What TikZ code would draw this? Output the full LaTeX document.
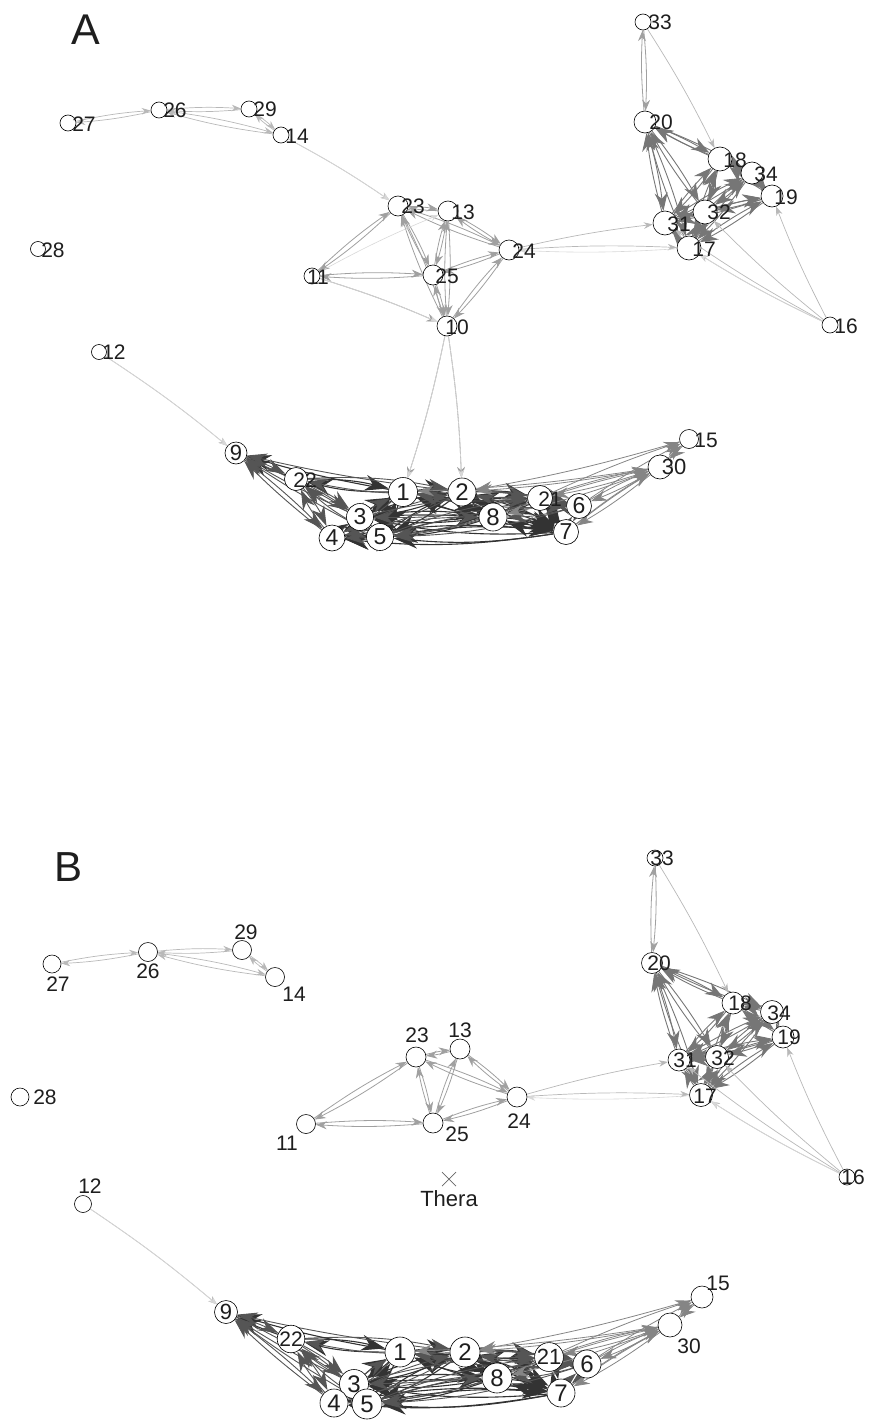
\documentclass[tikz,border=0pt]{standalone}
\usepackage{fontspec}
\setmainfont{Liberation Sans}
\usetikzlibrary{arrows.meta,calc}
\pgfdeclarelayer{bg}
\pgfsetlayers{bg,main}
\definecolor{cvl}{HTML}{D8D8D8}
\definecolor{clt}{HTML}{B8B8B8}
\definecolor{cmd}{HTML}{A0A0A0}
\definecolor{crc}{HTML}{767676}
\definecolor{cbm}{HTML}{858585}
\definecolor{cdm}{HTML}{555555}
\definecolor{cdk}{HTML}{333333}
\definecolor{ctx}{HTML}{1E1E1E}
\tikzset{
  vtx/.style={circle,draw=black,fill=white,line width=0.6pt,inner sep=0pt,text=ctx},
  lab/.style={text=ctx,inner sep=0pt,font=\fontsize{21}{21}\selectfont},
  labbig/.style={text=ctx,inner sep=0pt,font=\fontsize{22}{22}\selectfont},
  vl/.style={draw=cvl,line width=0.6pt,-{Stealth[length=8pt,width=6pt]}},
  lt/.style={draw=clt,line width=0.7pt,-{Stealth[length=9pt,width=6.5pt]}},
  md/.style={draw=cmd,line width=0.8pt,-{Stealth[length=11pt,width=8pt]}},
  rc/.style={draw=crc,line width=0.9pt,-{Stealth[length=18pt,width=13pt]}},
  bm/.style={draw=cbm,line width=0.8pt,-{Stealth[length=16pt,width=11pt]}},
  dm/.style={draw=cdm,line width=0.9pt,-{Stealth[length=20pt,width=13pt]}},
  dk/.style={draw=cdk,line width=1.1pt,-{Stealth[length=24pt,width=16pt]}},
}
\newcommand\biedge[3]{\draw[#1] (#2) to[bend left=4] (#3); \draw[#1] (#3) to[bend left=4] (#2);}
\newcommand\wideedge[3]{\draw[#1] (#2) to[bend left=7] (#3); \draw[#1] (#3) to[bend left=7] (#2);}
\newcommand\oneedge[3]{\draw[#1] (#2) to[bend left=3] (#3);}
\newcommand\clusteredges[1]{%
  \foreach \s/\t in {20/18,20/34,20/31,20/17,20/32,18/31,18/32,18/17,18/34,34/32,34/31,34/17,34/19,19/31,19/32,19/17,31/32,31/17,32/17,18/19}
    {\biedge{rc}{#1\s}{#1\t}}
  \biedge{md}{#133}{#120}
  \oneedge{lt}{#133}{#118}
  \foreach \t in {19,17,31,32} {\oneedge{lt}{#116}{#1\t}}
  \oneedge{vl}{#116}{#117}
  \foreach \s/\t in {1/2,1/3,1/5,1/8,1/7,2/3,2/5,2/8,2/7,2/21,3/5,3/8,3/7,4/5,4/7,5/7,5/8,8/7,8/21,21/7,1/22,3/4}
    {\wideedge{dk}{#1\s}{#1\t}}
  \foreach \s/\t in {1/21,1/4,2/4,2/6,2/22,3/22,3/21,4/8,4/22,5/21,5/22,8/6,21/6,6/7,1/6,5/6}
    {\wideedge{dm}{#1\s}{#1\t}}
  \foreach \s/\t in {22/9,1/9} {\oneedge{dk}{#1\s}{#1\t}}
  \foreach \s/\t in {3/9,4/9,9/4,5/9,2/9,9/22,9/3} {\oneedge{dm}{#1\s}{#1\t}}
  \foreach \s/\t in {30/21,30/6,30/7,30/8} {\biedge{bm}{#1\s}{#1\t}}
  \foreach \s/\t in {30/2,30/1,15/2,21/15,6/15,30/15,15/30,7/30} {\oneedge{bm}{#1\s}{#1\t}}
  \oneedge{lt}{#112}{#19}
  \oneedge{vl}{#112}{#19}
}
\begin{document}
\begin{tikzpicture}[x=1pt,y=-1pt]
\useasboundingbox (0,0) rectangle (868,1421);
% ================= PANEL A =================
\node[text=ctx,inner sep=0pt,font=\fontsize{43}{43}\selectfont] (labA) at (86,30) {A};
\node[vtx,minimum size=16pt] (A27) at (68,123) {};
\node[vtx,minimum size=16pt] (A26) at (159,110) {};
\node[vtx,minimum size=16pt] (A29) at (249,109) {};
\node[vtx,minimum size=16pt] (A14) at (281,135) {};
\node[vtx,minimum size=15pt] (A28) at (38,249) {};
\node[vtx,minimum size=15pt] (A12) at (99,352) {};
\node[vtx,minimum size=20pt] (A23) at (398,206) {};
\node[vtx,minimum size=20pt] (A13) at (448,211) {};
\node[vtx,minimum size=20pt] (A24) at (509,250) {};
\node[vtx,minimum size=16pt] (A11) at (312,276) {};
\node[vtx,minimum size=20pt] (A25) at (433,275) {};
\node[vtx,minimum size=20pt] (A10) at (447,326) {};
\node[vtx,minimum size=16pt] (A33) at (643,22) {};
\node[vtx,minimum size=22pt] (A20) at (645,122) {};
\node[vtx,minimum size=24pt] (A18) at (720,159) {};
\node[vtx,minimum size=22pt] (A34) at (752,173) {};
\node[vtx,minimum size=22pt] (A19) at (772,196) {};
\node[vtx,minimum size=24pt] (A32) at (705,212) {};
\node[vtx,minimum size=24pt] (A31) at (665,223) {};
\node[vtx,minimum size=24pt] (A17) at (689,248) {};
\node[vtx,minimum size=16pt] (A16) at (830,325) {};
\node[vtx,minimum size=22pt,font=\fontsize{22}{22}\selectfont] (A9) at (236,453) {9};
\node[vtx,minimum size=23pt] (A22) at (296,479) {};
\node[vtx,minimum size=29pt,font=\fontsize{24}{24}\selectfont] (A1) at (403,492) {1};
\node[vtx,minimum size=28pt,font=\fontsize{24}{24}\selectfont] (A2) at (462,492) {2};
\node[vtx,minimum size=25pt] (A21) at (540,498) {};
\node[vtx,minimum size=25pt,font=\fontsize{23}{23}\selectfont] (A6) at (579,506) {6};
\node[vtx,minimum size=27pt,font=\fontsize{23}{23}\selectfont] (A3) at (360,517) {3};
\node[vtx,minimum size=28pt,font=\fontsize{24}{24}\selectfont] (A8) at (493,517) {8};
\node[vtx,minimum size=26pt,font=\fontsize{23}{23}\selectfont] (A4) at (332,538) {4};
\node[vtx,minimum size=27pt,font=\fontsize{23}{23}\selectfont] (A5) at (380,537) {5};
\node[vtx,minimum size=25pt,font=\fontsize{23}{23}\selectfont] (A7) at (566,532) {7};
\node[vtx,minimum size=24pt] (A30) at (660,467) {};
\node[vtx,minimum size=19pt] (A15) at (689,439) {};
\node[lab] (lA27) at (84,124) {27};
\node[lab] (lA26) at (175,110) {26};
\node[lab] (lA29) at (265,109) {29};
\node[lab] (lA14) at (297,136) {14};
\node[lab] (lA28) at (53,250) {28};
\node[lab] (lA12) at (114,352) {12};
\node[lab] (lA23) at (413,206) {23};
\node[lab] (lA13) at (463,212) {13};
\node[lab] (lA24) at (524,251) {24};
\node[lab] (lA11) at (318,277) {11};
\node[lab] (lA25) at (447,276) {25};
\node[lab] (lA10) at (457,327) {10};
\node[lab] (lA33) at (660,22) {33};
\node[lab] (lA20) at (661,122) {20};
\node[lab] (lA18) at (735,160) {18};
\node[lab] (lA34) at (766,174) {34};
\node[lab] (lA19) at (786,197) {19};
\node[lab] (lA32) at (719,212) {32};
\node[lab] (lA31) at (679,224) {31};
\node[lab] (lA17) at (704,249) {17};
\node[lab] (lA16) at (846,326) {16};
\node[lab] (lA22) at (305,480) {22};
\node[lab] (lA21) at (550,499) {21};
\node[labbig] (lA30) at (674,467) {30};
\node[lab] (lA15) at (706,440) {15};
% ================= PANEL B =================
\node[text=ctx,inner sep=0pt,font=\fontsize{42}{42}\selectfont] (labB) at (69,867) {B};
\node[vtx,minimum size=18pt] (B27) at (52,964) {};
\node[vtx,minimum size=19pt] (B26) at (148,952) {};
\node[vtx,minimum size=19pt] (B29) at (242,950) {};
\node[vtx,minimum size=19pt] (B14) at (275,977) {};
\node[vtx,minimum size=18pt] (B28) at (20,1097) {};
\node[vtx,minimum size=17pt] (B12) at (83,1204) {};
\node[vtx,minimum size=20pt] (B23) at (416,1057) {};
\node[vtx,minimum size=20pt] (B13) at (460,1049) {};
\node[vtx,minimum size=20pt] (B24) at (517,1097) {};
\node[vtx,minimum size=19pt] (B11) at (306,1124) {};
\node[vtx,minimum size=20pt] (B25) at (433,1123) {};
\node[vtx,minimum size=16pt] (B33) at (655,858) {};
\node[vtx,minimum size=21pt] (B20) at (652,963) {};
\node[vtx,minimum size=22pt] (B18) at (733,1003) {};
\node[vtx,minimum size=23pt] (B34) at (772,1012) {};
\node[vtx,minimum size=22pt] (B19) at (783,1037) {};
\node[vtx,minimum size=22pt] (B31) at (679,1060) {};
\node[vtx,minimum size=23pt] (B32) at (717,1057) {};
\node[vtx,minimum size=23pt] (B17) at (701,1095) {};
\node[vtx,minimum size=16pt] (B16) at (847,1177) {};
\node[vtx,minimum size=23pt,font=\fontsize{22}{22}\selectfont] (B9) at (226,1312) {9};
\node[vtx,minimum size=25pt,font=\fontsize{21}{21}\selectfont] (B22) at (291,1339) {22};
\node[vtx,minimum size=30pt,font=\fontsize{24}{24}\selectfont] (B1) at (400,1352) {1};
\node[vtx,minimum size=30pt,font=\fontsize{24}{24}\selectfont] (B2) at (465,1352) {2};
\node[vtx,minimum size=29pt,font=\fontsize{24}{24}\selectfont] (B3) at (354,1384) {3};
\node[vtx,minimum size=28pt,font=\fontsize{24}{24}\selectfont] (B4) at (334,1403) {4};
\node[vtx,minimum size=30pt,font=\fontsize{24}{24}\selectfont] (B5) at (367,1404) {5};
\node[vtx,minimum size=30pt,font=\fontsize{24}{24}\selectfont] (B8) at (497,1378) {8};
\node[vtx,minimum size=27pt,font=\fontsize{22}{22}\selectfont] (B21) at (549,1357) {21};
\node[vtx,minimum size=28pt,font=\fontsize{24}{24}\selectfont] (B6) at (587,1364) {6};
\node[vtx,minimum size=28pt,font=\fontsize{24}{24}\selectfont] (B7) at (561,1393) {7};
\node[vtx,minimum size=24pt] (B30) at (670,1325) {};
\node[vtx,minimum size=22pt] (B15) at (702,1297) {};
\coordinate (thera) at (449,1179);
\draw[draw=black!60,line width=0.7pt] ($(thera)+(-7,-7)$) -- ($(thera)+(7,7)$) ($(thera)+(-7,7)$) -- ($(thera)+(7,-7)$);
\node[lab,font=\fontsize{22}{22}\selectfont] (lthera) at (449,1199) {Thera};
\node[lab] (lB27) at (58,984) {27};
\node[lab] (lB26) at (148,971) {26};
\node[lab] (lB29) at (246,932) {29};
\node[lab] (lB14) at (294,994) {14};
\node[lab] (lB28) at (45,1097) {28};
\node[lab] (lB12) at (90,1186) {12};
\node[lab] (lB23) at (417,1035) {23};
\node[lab] (lB13) at (460,1030) {13};
\node[lab] (lB24) at (519,1121) {24};
\node[lab] (lB11) at (287,1143) {11};
\node[lab] (lB25) at (457,1134) {25};
\node[lab] (lB33) at (662,858) {33};
\node[lab] (lB20) at (659,963) {20};
\node[lab] (lB18) at (740,1003) {18};
\node[lab] (lB34) at (779,1013) {34};
\node[lab] (lB19) at (789,1037) {19};
\node[lab] (lB31) at (685,1060) {31};
\node[lab] (lB32) at (723,1058) {32};
\node[lab] (lB17) at (705,1096) {17};
\node[lab] (lB16) at (853,1177) {16};
\node[lab] (lB30) at (689,1346) {30};
\node[lab] (lB15) at (718,1283) {15};
% ================= EDGES =================
\begin{pgfonlayer}{bg}
\foreach \s/\t in {27/26,26/29,26/14,29/14} {\biedge{lt}{A\s}{A\t}}
\oneedge{lt}{A14}{A23}
\oneedge{vl}{A14}{A23}
\foreach \s/\t in {23/11,23/13,23/25,23/10,23/24,13/24,13/25,13/10,11/25,25/24,25/10,24/10} {\biedge{md}{A\s}{A\t}}
\oneedge{md}{A11}{A10}
\oneedge{vl}{A11}{A10}
\oneedge{vl}{A11}{A13}
\oneedge{lt}{A24}{A31}
\oneedge{lt}{A24}{A17}
\oneedge{vl}{A17}{A24}
\oneedge{md}{A10}{A1}
\oneedge{md}{A10}{A2}
\oneedge{vl}{A10}{A1}
\oneedge{vl}{A10}{A2}
\clusteredges{A}
\foreach \s/\t in {27/26,26/29,26/14,29/14} {\biedge{lt}{B\s}{B\t}}
\foreach \s/\t in {23/11,23/13,23/25,23/24,13/24,13/25,11/25,25/24} {\biedge{md}{B\s}{B\t}}
\oneedge{lt}{B24}{B31}
\oneedge{lt}{B24}{B17}
\oneedge{vl}{B17}{B24}
\clusteredges{B}
\end{pgfonlayer}
\end{tikzpicture}
\end{document}
